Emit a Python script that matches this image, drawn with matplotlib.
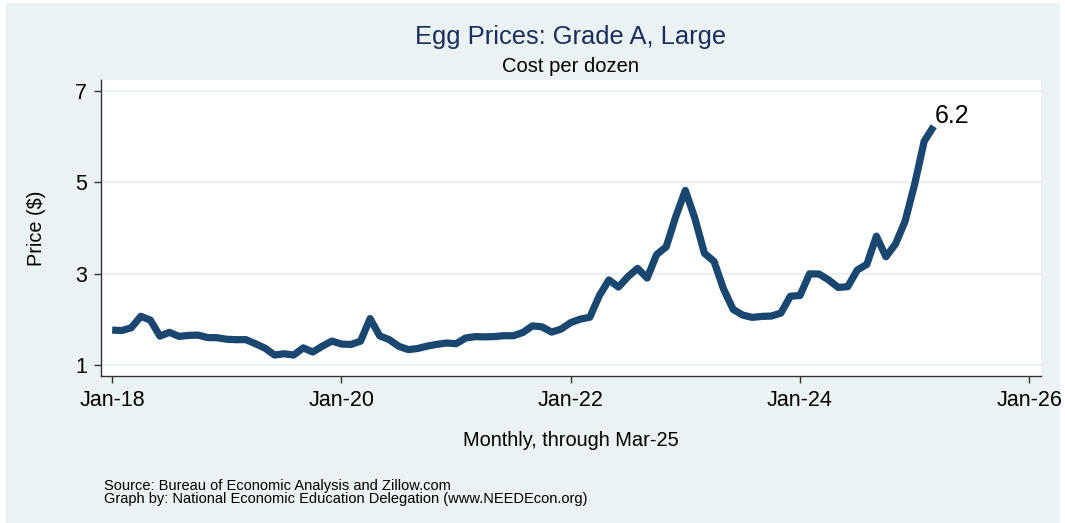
import numpy as np
import matplotlib
matplotlib.use("Agg")
import matplotlib.pyplot as plt
from matplotlib.patches import Rectangle

plt.rcParams['font.family'] = ['Liberation Sans', 'DejaVu Sans']

# Average price of eggs, grade A large, $ per dozen, monthly Jan-18 .. Mar-25
prices = [
    # 2018
    1.764, 1.755, 1.816, 2.067, 1.983, 1.633, 1.716, 1.627, 1.649, 1.655, 1.601, 1.598,
    # 2019
    1.564, 1.555, 1.556, 1.466, 1.369, 1.219, 1.247, 1.219, 1.375, 1.285, 1.413, 1.525,
    # 2020
    1.460, 1.450, 1.523, 2.017, 1.640, 1.556, 1.411, 1.338, 1.363, 1.415, 1.453, 1.482,
    # 2021
    1.467, 1.592, 1.622, 1.617, 1.623, 1.642, 1.641, 1.713, 1.857, 1.836, 1.721, 1.788,
    # 2022
    1.929, 2.005, 2.046, 2.520, 2.863, 2.707, 2.936, 3.116, 2.904, 3.419, 3.589, 4.250,
    # 2023
    4.823, 4.211, 3.446, 3.270, 2.666, 2.219, 2.094, 2.043, 2.065, 2.072, 2.138, 2.507,
    # 2024
    2.522, 2.996, 2.992, 2.864, 2.699, 2.715, 3.080, 3.204, 3.821, 3.370, 3.649, 4.146,
    # 2025
    4.953, 5.897, 6.227,
]

# x axis ticks, in months since Jan-18
tick_months = [0, 24, 48, 72, 96]
tick_labels = ["Jan-18", "Jan-20", "Jan-22", "Jan-24", "Jan-26"]
y_ticks = [1, 3, 5, 7]

LINE_COL = "#1a476f"
BG_COL = "#eaf2f3"
TITLE_COL = "#1c2d5c"

fig = plt.figure(figsize=(10.65, 5.23), dpi=100)
fig.patch.set_facecolor("white")
# stata style graph region (behind the axes)
fig.patches.append(Rectangle((6 / 1065, 0), 1054 / 1065, 1 - 3 / 523,
                             transform=fig.transFigure, facecolor=BG_COL,
                             edgecolor="none", zorder=-10))

ax = fig.add_axes([100.7 / 1065, 1 - 376 / 523, 940 / 1065, 296 / 523])
ax.set_facecolor("white")

months = np.arange(len(prices))
ax.plot(months, prices, color=LINE_COL, lw=5.2, solid_capstyle="butt",
        solid_joinstyle="round", zorder=3)

# label on last value
ax.annotate(f"{prices[-1]:.1f}", (months[-1], prices[-1]), xytext=(1, 7.5),
            textcoords="offset points", ha="left", va="center", fontsize=18,
            color="black")

ax.set_xlim(-1.2, 97.2)
ax.set_ylim(0.76, 7.24)
ax.set_xticks(tick_months)
ax.set_xticklabels(tick_labels)
ax.set_yticks(y_ticks)
ax.tick_params(axis="both", labelsize=15.5, length=5, width=1, color="#333333",
               pad=5)
ax.grid(axis="y", color=BG_COL, lw=1.5, zorder=1)
ax.set_axisbelow(True)
for side in ["top", "right"]:
    ax.spines[side].set_visible(False)
for side in ["left", "bottom"]:
    ax.spines[side].set_color("#333333")
    ax.spines[side].set_linewidth(1)

# titles and notes
fig.text(571 / 1065, 1 - 37 / 523, "Egg Prices: Grade A, Large", ha="center",
         va="center", fontsize=18.4, color=TITLE_COL)
fig.text(571 / 1065, 1 - 66 / 523, "Cost per dozen", ha="center", va="center",
         fontsize=14.5)
fig.text(37 / 1065, 1 - 228 / 523, "Price ($)", rotation=90, ha="center",
         va="center", fontsize=14.3)
fig.text(571 / 1065, 1 - 441 / 523, "Monthly, through Mar-25", ha="center",
         va="center", fontsize=14.4)
fig.text(104 / 1065, 1 - 486 / 523, "Source: Bureau of Economic Analysis and Zillow.com",
         ha="left", va="center", fontsize=10.5)
fig.text(104 / 1065, 1 - 499.5 / 523,
         "Graph by: National Economic Education Delegation (www.NEEDEcon.org)",
         ha="left", va="center", fontsize=10.5)

fig.savefig("out.png", dpi=100, facecolor=fig.get_facecolor())
